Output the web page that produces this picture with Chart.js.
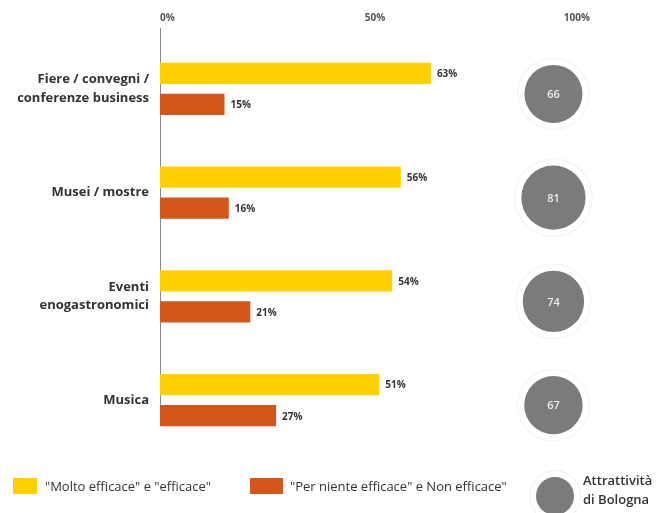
<!DOCTYPE html>
<html>
<head>
<meta charset="utf-8">
<script src="https://cdn.jsdelivr.net/npm/chart.js@4.4.1/dist/chart.umd.min.js"></script>
<style>
  html, body { margin: 0; padding: 0; background: #fff; }
  #wrap { position: relative; width: 656px; height: 513px; overflow: hidden; font-family: "Open Sans", sans-serif; }
  #myChart { position: absolute; left: 0; top: 0; }
  .legend-item { position: absolute; font-size: 13px; color: #333; white-space: nowrap; }
  .box { position: absolute; width: 24px; height: 16px; }
  .dot { position: absolute; border-radius: 50%; background: #7b7b7b; box-shadow: 0 0 0 6px #fff, 0 0 0 7px #f0f0f0; }
</style>
</head>
<body>
<div id="wrap">
  <canvas id="myChart" width="656" height="513"></canvas>
  <div class="box" style="left:13px; top:478px; background:#ffd100;"></div>
  <div class="legend-item" style="left:45px; top:477px;">"Molto efficace" e "efficace"</div>
  <div class="box" style="left:250px; top:478px; width:33px; background:#d5561a;"></div>
  <div class="legend-item" style="left:290px; top:477px;">"Per niente efficace" e Non efficace"</div>
  <div class="dot" style="left:536px; top:477px; width:38px; height:38px;"></div>
  <div class="legend-item" style="left:583px; top:471px; line-height:19px; font-weight:600;">Attrattività<br>di Bologna</div>
</div>
<script>
// categories and values
const categories = [
  ["Fiere / convegni /", "conferenze business"],
  "Musei / mostre",
  ["Eventi", "enogastronomici"],
  "Musica",
];
const efficace = [63, 56, 54, 51];
const nonEfficace = [15, 16, 21, 27];
const attrattivita = [66, 81, 74, 67];
const xTicks = [0, 50, 100];

// position of the circles column on the % axis
const CIRCLE_COL = 91.5;

// vertical axis line at 0%, a bit shorter than the chart area like the original
const axisLine = {
  id: "axisLine",
  beforeDatasetsDraw(chart) {
    const { ctx, chartArea, scales } = chart;
    const x = Math.round(scales.x.getPixelForValue(0)) + 0.5;
    ctx.save();
    ctx.strokeStyle = "#8a8a8a";
    ctx.lineWidth = 1;
    ctx.beginPath();
    ctx.moveTo(x, chartArea.top - 9);
    ctx.lineTo(x, chartArea.bottom - 27);
    ctx.stroke();
    ctx.restore();
  },
};

// percentage labels after each bar
const valueLabels = {
  id: "valueLabels",
  afterDatasetsDraw(chart) {
    const ctx = chart.ctx;
    ctx.save();
    ctx.font = "bold 10px 'Open Sans', sans-serif";
    ctx.fillStyle = "#333";
    ctx.textBaseline = "middle";
    chart.data.datasets.forEach((ds, di) => {
      chart.getDatasetMeta(di).data.forEach((bar, i) => {
        ctx.fillText(ds.data[i] + "%", bar.x + 6, bar.y + 1);
      });
    });
    ctx.restore();
  },
};

// grey "Attrattività di Bologna" circles
const circles = {
  id: "circles",
  afterDatasetsDraw(chart) {
    const { ctx, scales } = chart;
    const cx = scales.x.getPixelForValue(CIRCLE_COL);
    attrattivita.forEach((v, i) => {
      const cy = scales.y.getPixelForValue(i) + 5;
      const r = 29 * Math.sqrt(v / 66);
      ctx.save();
      // faint white ring
      ctx.beginPath();
      ctx.arc(cx, cy, r + 6, 0, Math.PI * 2);
      ctx.fillStyle = "#fff";
      ctx.shadowColor = "rgba(0,0,0,0.12)";
      ctx.shadowBlur = 3;
      ctx.fill();
      ctx.shadowBlur = 0;
      ctx.beginPath();
      ctx.arc(cx, cy, r, 0, Math.PI * 2);
      ctx.fillStyle = "#7b7b7b";
      ctx.fill();
      ctx.font = "600 11px 'Open Sans', sans-serif";
      ctx.fillStyle = "#ececec";
      ctx.textAlign = "center";
      ctx.textBaseline = "middle";
      ctx.fillText(v, cx, cy + 1);
      ctx.restore();
    });
  },
};

const ctx = document.getElementById("myChart").getContext("2d");
const myChart = new Chart(ctx, {
  type: "bar",
  data: {
    labels: categories,
    datasets: [
      {
        label: "\"Molto efficace\" e \"efficace\"",
        data: efficace,
        backgroundColor: "#ffd100",
        categoryPercentage: 0.6,
        barPercentage: 0.68,
      },
      {
        label: "\"Per niente efficace\" e Non efficace\"",
        data: nonEfficace,
        backgroundColor: "#d5561a",
        categoryPercentage: 0.6,
        barPercentage: 0.68,
      },
    ],
  },
  options: {
    indexAxis: "y",
    responsive: false,
    animation: false,
    layout: { padding: { top: 0, right: 66, bottom: 61, left: 0 } },
    plugins: {
      legend: { display: false },
      tooltip: { enabled: false },
    },
    scales: {
      x: {
        position: "top",
        min: 0,
        max: 100,
        afterBuildTicks(scale) {
          scale.ticks = xTicks.map((v) => ({ value: v }));
        },
        afterFit(scale) {
          scale.height = 37;
        },
        grid: { display: false, drawTicks: false },
        border: { display: false },
        ticks: {
          padding: 13,
          align: "inner",
          color: "#555",
          font: { family: "'Open Sans', sans-serif", size: 10, weight: "bold" },
          callback: (v) => v + "%",
        },
      },
      y: {
        afterFit(scale) {
          scale.width = 160;
        },
        grid: { display: false, drawTicks: false },
        border: { display: false },
        ticks: {
          padding: 11,
          color: "#333",
          font: { family: "'Open Sans', sans-serif", size: 13, weight: "bold", lineHeight: 1.4 },
        },
      },
    },
  },
  plugins: [axisLine, valueLabels, circles],
});
</script>
</body>
</html>
